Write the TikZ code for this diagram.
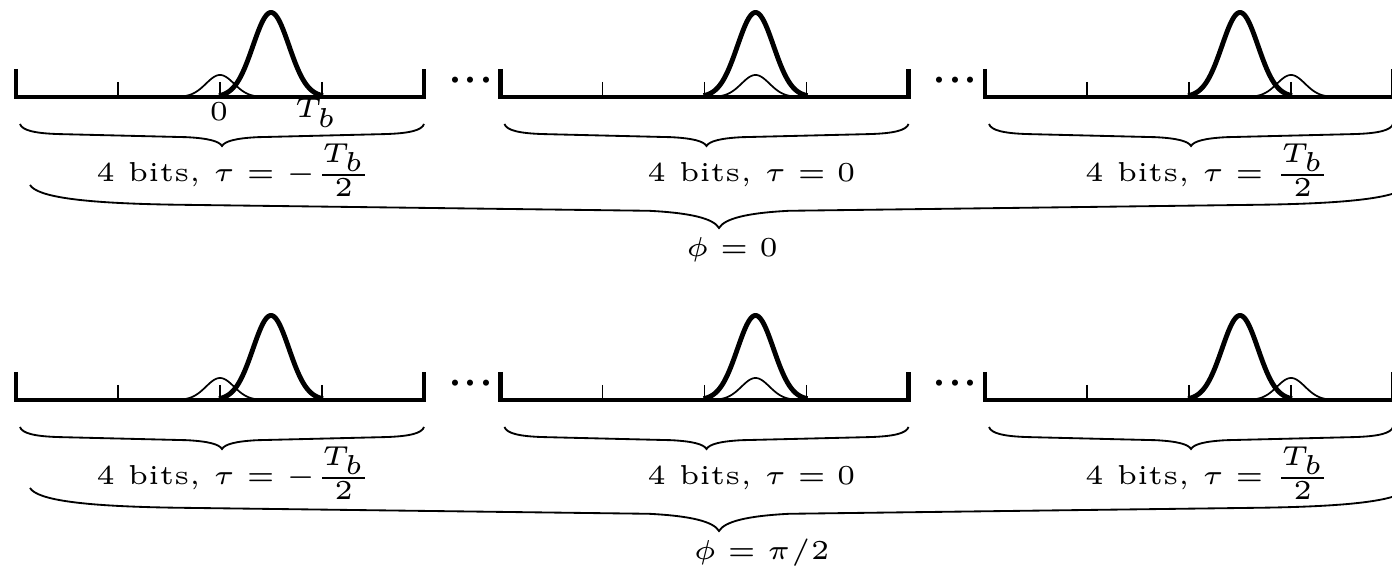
\documentclass[tikz,border=0pt]{standalone}
\usepackage{graphicx}
\newcommand\lbl[1]{\scalebox{0.955}{#1}}
\newcommand\pulsepanel[3]{% #1 left end x, #2 axis y, #3 offset of thin pulse centre
  \draw[axisline] ({#1},{#2-28}) -- ({#1},{#2}) -- ({#1+408},{#2}) -- ({#1+408},{#2-28});
  \foreach \k in {102,204,306} \draw[tickline] ({#1+\k},{#2-15}) -- ({#1+\k},{#2+1});
  \draw[smallpulse] plot[domain=-42:42,samples=85] ({#1+#3+\x},{#2-22*exp(-(\x*\x)/392)});
  \draw[bigpulse] plot[domain=-52:52,samples=105] ({#1+255+\x},{#2-84.5*exp(-(\x*\x)/648)});
}
\newcommand\curlybrace[6]{% #1 x1, #2 x2, #3 top y, #4 depth, #5 end curl, #6 tip curl
  \draw[bracepath] ({#1},{#3})
    .. controls ({#1+0.05*#5},{#3+0.28*#4}) and ({#1+0.35*#5},{#3+0.43*#4}) .. ({#1+#5},{#3+0.46*#4})
    -- ({(#1+#2)/2-#6},{#3+0.6*#4})
    .. controls ({(#1+#2)/2-0.4*#6},{#3+0.65*#4}) and ({(#1+#2)/2-0.08*#6},{#3+0.78*#4}) .. ({(#1+#2)/2},{#3+#4})
    .. controls ({(#1+#2)/2+0.08*#6},{#3+0.78*#4}) and ({(#1+#2)/2+0.4*#6},{#3+0.65*#4}) .. ({(#1+#2)/2+#6},{#3+0.6*#4})
    -- ({#2-#5},{#3+0.46*#4})
    .. controls ({#2-0.35*#5},{#3+0.43*#4}) and ({#2-0.05*#5},{#3+0.28*#4}) .. ({#2},{#3});
}
\newcommand\pulserow[4]{% #1 axis y, #2 phi label, #3 phi label x, #4 name prefix
  \pulsepanel{16}{#1}{204}
  \pulsepanel{500.5}{#1}{255}
  \pulsepanel{985}{#1}{306}
  \node[dotlab] (#4d1) at (471,{#1-2.6}) {${\cdot}{\cdot}{\cdot}$};
  \node[dotlab] (#4d2) at (955,{#1-2.6}) {${\cdot}{\cdot}{\cdot}$};
  \curlybrace{20}{424}{#1+27}{22}{40}{35}
  \curlybrace{504.5}{908.5}{#1+27}{22}{40}{35}
  \curlybrace{989}{1393}{#1+27}{22}{40}{35}
  \curlybrace{30}{1408}{#1+88}{43}{150}{70}
  \node[lab] (#4l1) at (234,{#1+85}) {\lbl{4 bits, $\tau = -\frac{T_b}{2}$}};
  \node[lab] (#4l2) at (751.5,{#1+85}) {\lbl{4 bits, $\tau = 0$}};
  \node[lab] (#4l3) at (1208,{#1+85}) {\lbl{4 bits, $\tau = \frac{T_b}{2}$}};
  \node[lab] (#4phi) at (#3,{#1+160}) {\lbl{#2}};
}
\begin{document}
\begin{tikzpicture}[x=0.1742pt,y=-0.1742pt,
  axisline/.style={line width=0.85pt, line join=miter},
  tickline/.style={line width=0.3pt},
  bigpulse/.style={line width=0.85pt, line join=round},
  smallpulse/.style={line width=0.3pt},
  bracepath/.style={line width=0.32pt},
  lab/.style={font=\fontsize{5}{6}\selectfont, anchor=base, inner sep=0pt},
  dotlab/.style={font=\fontsize{10}{12}\selectfont, anchor=base, inner sep=0pt}]
\useasboundingbox (0,0) rectangle (1392,568);
\clip (0,0) rectangle (1392,568);
\pulserow{97}{$\phi = 0$}{732}{a}
\pulserow{400}{$\phi = \pi/2$}{761.5}{b}
\node[lab] (zero) at (219,121) {\lbl{$0$}};
\node[lab] (tb) at (316,118) {\lbl{$T_b$}};
\end{tikzpicture}
\end{document}
